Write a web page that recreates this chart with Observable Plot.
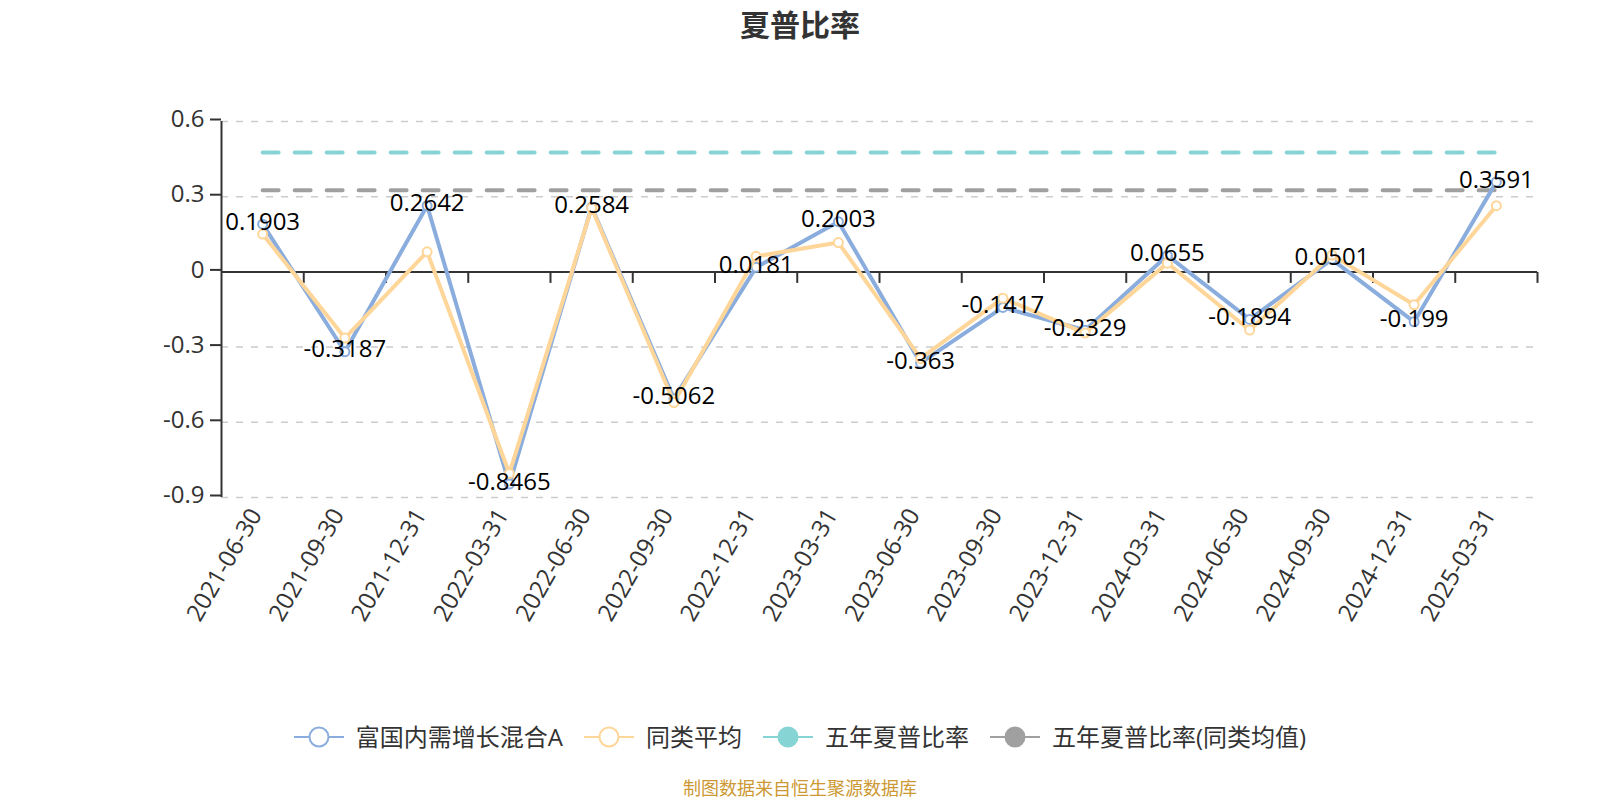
<!DOCTYPE html>
<html>
<head>
<meta charset="utf-8">
<script src="https://cdn.jsdelivr.net/npm/d3@7"></script>
<script src="https://cdn.jsdelivr.net/npm/@observablehq/plot@0.6"></script>
<style>
html,body{margin:0;padding:0;background:#fff;overflow:hidden;width:1600px;height:800px;}
body{font-family:"Open Sans","Noto Sans CJK SC",sans-serif;}
#title{height:46px;line-height:46px;text-align:center;font-size:30px;font-weight:bold;color:#333;font-family:"Noto Sans CJK SC",sans-serif;}
#chart svg{display:block;}
#legend{height:74px;display:flex;justify-content:center;align-items:center;font-size:24px;color:#333;font-family:"Open Sans","Noto Sans CJK SC",sans-serif;}
.item{display:flex;align-items:center;margin:0 10.5px;line-height:1;}
.item svg{margin-right:12px;display:block;}
#footer{height:26px;line-height:26px;text-align:center;font-size:18px;color:#CC9933;font-family:"Noto Sans CJK SC",sans-serif;}
</style>
</head>
<body>
<div id="title"></div>
<div id="chart"></div>
<div id="legend"></div>
<div id="footer"></div>
<script>
const titleText = "夏普比率";
const footerText = "制图数据来自恒生聚源数据库";
const dates = ["2021-06-30","2021-09-30","2021-12-31","2022-03-31","2022-06-30","2022-09-30","2022-12-31","2023-03-31","2023-06-30","2023-09-30","2023-12-31","2024-03-31","2024-06-30","2024-09-30","2024-12-31","2025-03-31"];
const fundValues = [0.1903,-0.3187,0.2642,-0.8465,0.2584,-0.5062,0.0181,0.2003,-0.363,-0.1417,-0.2329,0.0655,-0.1894,0.0501,-0.199,0.3591];
const peerValues = [0.151,-0.264,0.080,-0.804,0.255,-0.521,0.062,0.117,-0.345,-0.105,-0.244,0.035,-0.232,0.067,-0.131,0.264];
const fiveYearFund = 0.476;
const fiveYearPeer = 0.326;
const yTicks = [-0.9,-0.6,-0.3,0,0.3,0.6];
const seriesNames = ["富国内需增长混合A","同类平均","五年夏普比率","五年夏普比率(同类均值)"];
const seriesColors = ["#8AADDD","#FFD699","#87D4D4","#A0A0A0"];
const legendFilled = [false,false,true,true];

document.getElementById("title").textContent = titleText;
document.getElementById("footer").textContent = footerText;

const fund = dates.map((d,i)=>({i, date:d, v:fundValues[i]}));
const peer = dates.map((d,i)=>({i, date:d, v:peerValues[i]}));
const fyFund = dates.map((d,i)=>({i, v:fiveYearFund}));
const fyPeer = dates.map((d,i)=>({i, v:fiveYearPeer}));
const boundaries = dates.map((d,i)=>i+0.5);
const tickSymbol = {draw(ctx){ctx.moveTo(0,0);ctx.lineTo(0,11);}};

const chart = Plot.plot({
  width:1600, height:654,
  marginTop:75, marginBottom:203, marginLeft:221, marginRight:63,
  x:{type:"linear", domain:[-0.5, dates.length-0.5], axis:null, label:null},
  y:{domain:[-0.9,0.6], axis:null, label:null},
  style:{fontFamily:'"Open Sans","Noto Sans CJK SC",sans-serif', fontSize:"24px", color:"#333", background:"#fff", overflow:"visible"},
  marks:[
    Plot.ruleY(yTicks.filter(v=>v!==0), {y:d=>d, stroke:"#ccc", strokeWidth:1.5, strokeDasharray:"7,8"}),
    Plot.ruleX([-0.5], {x:d=>d, stroke:"#333", strokeWidth:2}),
    Plot.axisY(yTicks, {tickSize:11, tickPadding:6, tickFormat:d=>String(d), fontSize:24, stroke:"#333", strokeWidth:2, dy:-2, label:null}),
    Plot.ruleY([0], {y:d=>d, stroke:"#333", strokeWidth:2}),
    Plot.dot(boundaries, {x:d=>d, y:()=>0, r:5, symbol:tickSymbol, stroke:"#333", strokeWidth:2, fill:"none"}),
    Plot.text(dates, {x:(d,i)=>i, text:d=>d, frameAnchor:"bottom", rotate:-60, textAnchor:"end", dy:17, fontSize:24, fill:"#333"}),
    Plot.line(fyFund, {x:"i", y:"v", stroke:seriesColors[2], strokeWidth:4, strokeDasharray:"16,16"}),
    Plot.line(fyPeer, {x:"i", y:"v", stroke:seriesColors[3], strokeWidth:4, strokeDasharray:"16,16"}),
    Plot.line(fund, {x:"i", y:"v", stroke:seriesColors[0], strokeWidth:4}),
    Plot.dot(fund, {x:"i", y:"v", r:4.5, stroke:seriesColors[0], strokeWidth:2, fill:"#fff"}),
    Plot.line(peer, {x:"i", y:"v", stroke:seriesColors[1], strokeWidth:4}),
    Plot.dot(peer, {x:"i", y:"v", r:4.5, stroke:seriesColors[1], strokeWidth:2, fill:"#fff"}),
    Plot.text(fund, {x:"i", y:"v", text:d=>String(d.v), fontSize:24, fill:"#000", dy:-2})
  ]
});
document.getElementById("chart").appendChild(chart);

const legend = document.getElementById("legend");
seriesNames.forEach((name,k)=>{
  const item = document.createElement("div");
  item.className = "item";
  const c = seriesColors[k];
  item.innerHTML = `<svg width="50" height="24" viewBox="0 0 50 24"><line x1="0" x2="50" y1="12" y2="12" stroke="${c}" stroke-width="2"/><circle cx="25" cy="12" r="9.5" stroke="${c}" stroke-width="2" fill="${legendFilled[k]?c:'#fff'}"/></svg><span>${name}</span>`;
  legend.appendChild(item);
});
</script>
</body>
</html>
